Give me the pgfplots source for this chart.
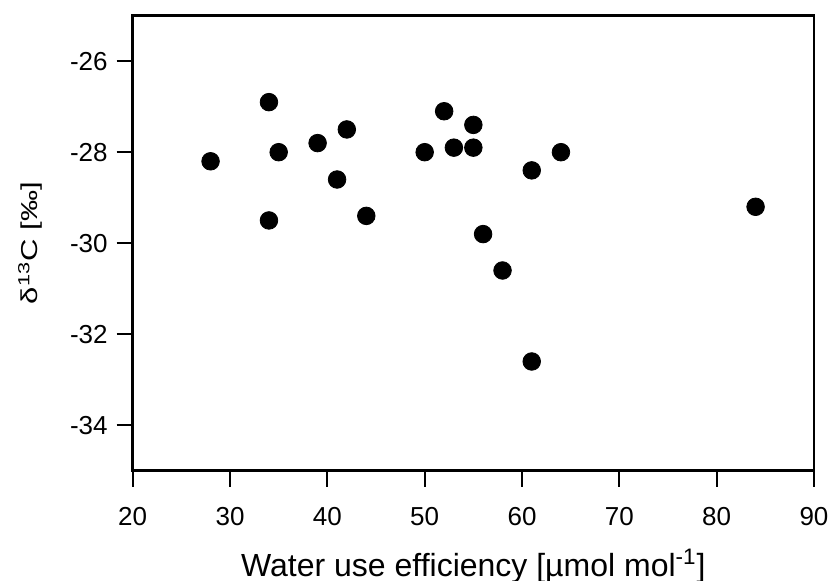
\documentclass[border=0pt]{standalone}
\usepackage{pgfplots}
\pgfplotsset{compat=1.18}
\usepackage{graphicx}
\usepackage{fontspec}
\setmainfont{Liberation Sans}
\begin{document}
\begin{tikzpicture}
\useasboundingbox (-66.35pt,-55.15pt) rectangle (348.15pt,235.35pt);
\begin{axis}[
  scale only axis,
  width=340.65pt, height=227.5pt,
  xmin=20, xmax=90, ymin=-35, ymax=-25,
  xtick={20,30,...,90},
  ytick={-34,-32,...,-26},
  tick align=outside,
  xtick pos=left, ytick pos=left,
  major tick length=8pt,
  axis line style={line width=1.3pt},
  every tick/.style={black, line width=1.1pt},
  /pgf/number format/assume math mode=true,
  tick label style={font=\fontsize{13}{15}\selectfont},
  xticklabel style={yshift=-7pt},
  yticklabel style={xshift=-1pt},
  xlabel={Water use efficiency [µmol mol\textsuperscript{-1}]},
  ylabel={\scalebox{1.35}[1]{δ\textsuperscript{13}C [‰]}},
  xlabel style={font=\fontsize{16}{18}\selectfont, at={(axis description cs:0.5,-0.233)}, anchor=base},
  ylabel style={font=\fontsize{11.5}{13}\selectfont, at={(axis description cs:-0.139,0.5)}, anchor=base},
]
\addplot[only marks, mark=*, mark size=4.4pt, black] coordinates {
(28,-28.2) (34,-26.9) (35,-28.0) (39,-27.8) (42,-27.5) (41,-28.6)
(34,-29.5) (44,-29.4) (50,-28.0) (52,-27.1) (53,-27.9) (55,-27.4)
(55,-27.9) (61,-28.4) (64,-28.0) (84,-29.2) (56,-29.8) (58,-30.6)
(61,-32.6)
};
\end{axis}
\end{tikzpicture}
\end{document}
